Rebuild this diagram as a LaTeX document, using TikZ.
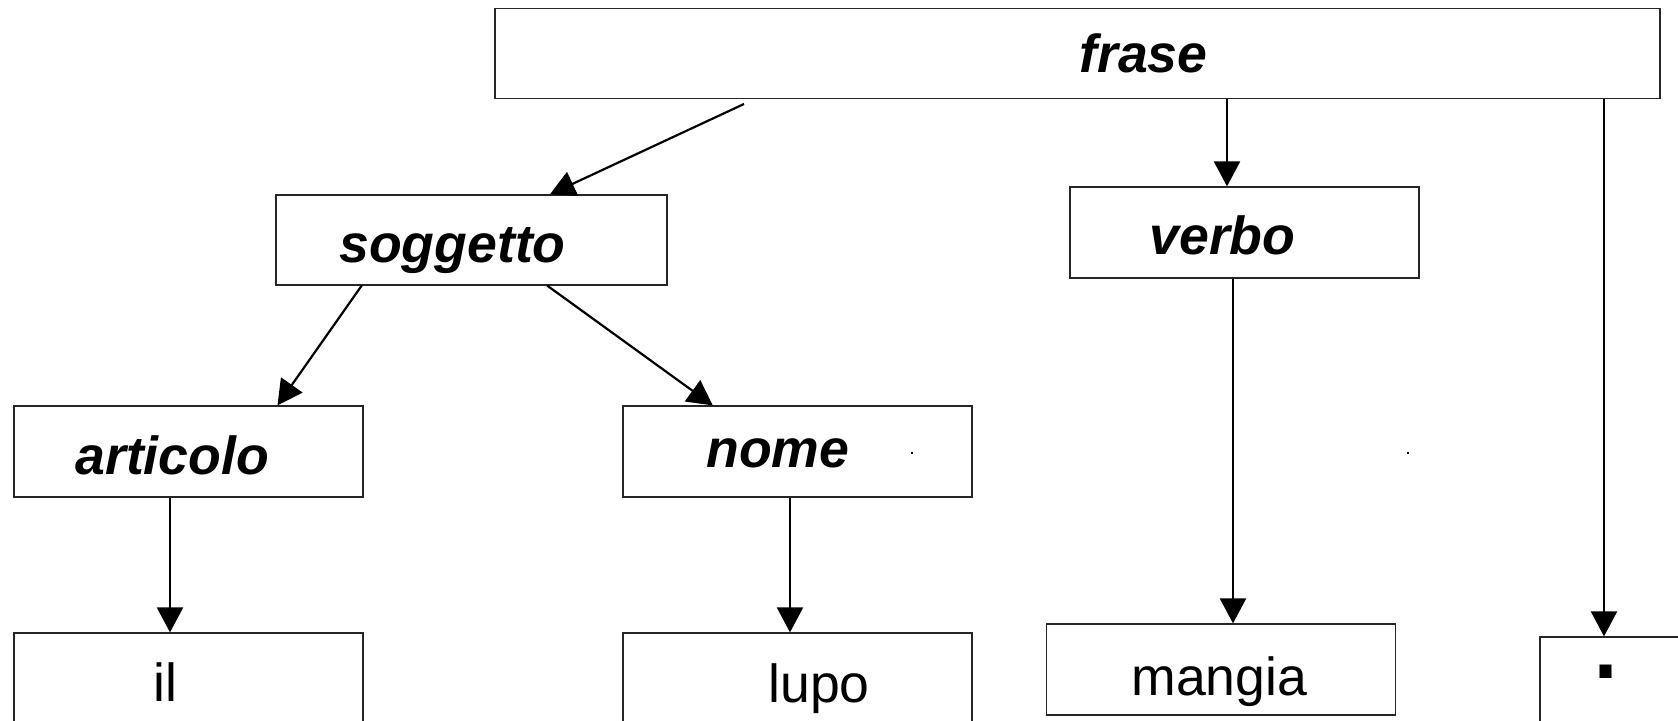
\documentclass[tikz,border=0pt]{standalone}
\usepackage{fontspec}
\setmainfont{Liberation Sans}
\usetikzlibrary{arrows.meta,calc}

\begin{document}
\begin{tikzpicture}[x=0.5pt,y=-0.5pt,
  box/.style={draw=black!85,line width=0.6pt,minimum width=174.5pt,minimum height=45.5pt,inner sep=0pt},
  cat/.style={font=\fontsize{26.8}{30}\selectfont\bfseries\itshape,inner sep=0pt,anchor=base west},
  word/.style={font=\fontsize{26.8}{30}\selectfont,inner sep=0pt,anchor=base west},
  arr/.style={-{Triangle[length=12.5pt,width=13pt]},line width=1.1pt}]
\useasboundingbox (0,0) rectangle (1678,721);
\clip (0,0) rectangle (1678,721);
% boxes
\node [box,minimum width=582.5pt,minimum height=45pt] (frase) at (1077.5,53.5) {};
\node [box,minimum width=195.5pt,minimum height=45pt] (soggetto) at (471.5,240) {};
\node [box] (verbo) at (1244.5,232.5) {};
\node [box] (articolo) at (188.5,451.5) {};
\node [box] (nome) at (797.5,451.5) {};
\node [box] (il) at (188.5,678.5) {};
\node [box] (lupo) at (797.5,678.5) {};
\node [box] (mangia) at (1221,669.5) {};
\node [box] (punto) at (1714.5,682.5) {};
% texts
\node [cat] (tfrase) at (1079,73) {frase};
\node [cat] (tsoggetto) at (339,263) {soggetto};
\node [cat] (tverbo) at (1149,255) {verbo};
\node [cat] (tarticolo) at (75,475) {articolo};
\node [cat] (tnome) at (706,468) {nome};
\node [word] (til) at (153,702) {il};
\node [word] (tlupo) at (768,703) {lupo};
\node [word] (tmangia) at (1131,696) {mangia};
\node [inner sep=0pt,font=\fontsize{63}{63}\selectfont] (tpunto) at (1606,672) {.};
\fill (911,452) rectangle (913,454);
\fill (1407,452) rectangle (1409,454);
% arrows
\coordinate (fsog) at (744,104);
\coordinate (xverbo) at (1227,0);
\coordinate (xpunto) at (1604,0);
\coordinate (xmangia) at (1233,0);
\coordinate (xil) at (170,0);
\coordinate (xlupo) at (790,0);
\draw [arr] (fsog) -- ($(soggetto.north west)!0.70!(soggetto.north east)$);
\draw [arr] (frase.south -| xverbo) -- (verbo.north -| xverbo);
\draw [arr] (frase.south -| xpunto) -- (punto.north -| xpunto);
\draw [arr] ($(soggetto.south west)!0.22!(soggetto.south east)$) -- ($(articolo.north west)!0.754!(articolo.north east)$);
\draw [arr] ($(soggetto.south west)!0.693!(soggetto.south east)$) -- ($(nome.north west)!0.258!(nome.north east)$);
\draw [arr] (verbo.south -| xmangia) -- (mangia.north -| xmangia);
\draw [arr] (articolo.south -| xil) -- (il.north -| xil);
\draw [arr] (nome.south -| xlupo) -- (lupo.north -| xlupo);
\end{tikzpicture}
\end{document}
